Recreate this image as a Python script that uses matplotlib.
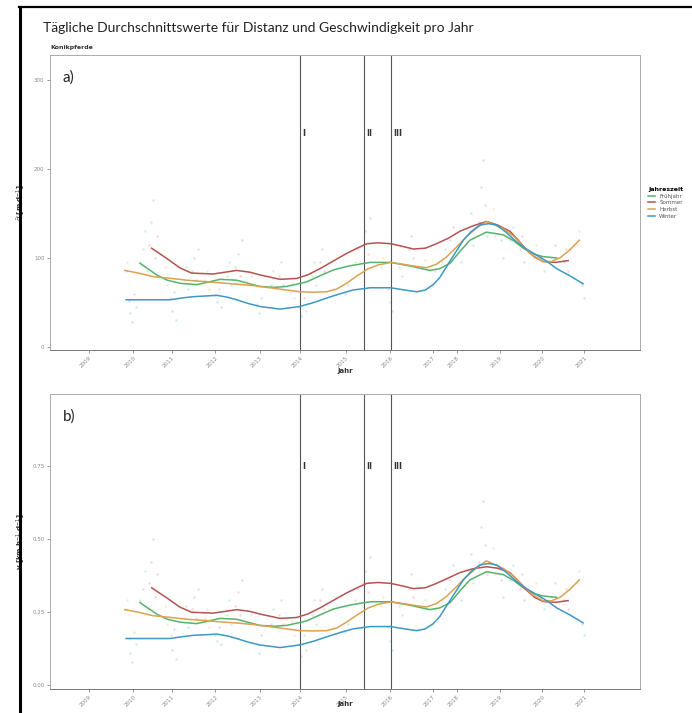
import matplotlib.pyplot as plt
from matplotlib.lines import Line2D

W, H = 692, 713

# x positions are in "axis years" (ticks of the original axis are unevenly spaced)
tick_pos = [2009.0, 2010.075, 2011.008, 2012.064, 2013.137, 2014.122, 2015.227,
            2016.30, 2017.334, 2017.908, 2018.96, 2019.985, 2021.0]
tick_lab = ['2009', '2010', '2011', '2012', '2013', '2014', '2015',
            '2016', '2017', '2018', '2019', '2020', '2021']
events = [2014.11, 2015.66, 2016.32]
event_lab = ['I', 'II', 'III']

seasons = ['Frühjahr', 'Sommer', 'Herbst', 'Winter']
line_cols = ['#55B36C', '#B4534F', '#DBA250', '#3D98C4']
dot_cols = ['#A8DCB1', '#F1ACA9', '#F5D4A4', '#9DD0E8']

# smoothed curves (panel a: distance, panel b: speed)
fr_t = [2010.24, 2010.64, 2010.9, 2011.21, 2011.61, 2011.9, 2012.18, 2012.58, 2012.9, 2013.14,
        2013.5, 2013.79, 2014.27, 2014.6, 2014.92, 2015.3, 2015.81, 2016.31, 2016.78, 2017.26,
        2017.5, 2017.75, 2018.0, 2018.23, 2018.63, 2019.04, 2019.3, 2019.52, 2019.8, 2020.0, 2020.33]
fr_a = [94, 81, 75, 71.5, 70, 73, 76, 75, 71, 68, 67, 68, 73, 80, 86.5, 91, 95, 95, 91, 86,
        88, 94, 108, 120, 129, 126, 119, 111, 104, 101.5, 100]
fr_b = [0.282, 0.243, 0.225, 0.215, 0.210, 0.219, 0.228, 0.225, 0.213, 0.204, 0.201, 0.204,
        0.219, 0.240, 0.260, 0.273, 0.285, 0.285, 0.273, 0.258, 0.264, 0.282, 0.324, 0.360,
        0.388, 0.378, 0.357, 0.333, 0.312, 0.305, 0.300]

so_t = [2010.52, 2010.9, 2011.2, 2011.49, 2012.01, 2012.3, 2012.58, 2012.9, 2013.14, 2013.63,
        2014.03, 2014.3, 2014.6, 2014.9, 2015.24, 2015.5, 2015.73, 2016.0, 2016.31, 2016.6,
        2016.86, 2017.15, 2017.42, 2017.7, 2017.99, 2018.3, 2018.63, 2018.9, 2019.2, 2019.4,
        2019.6, 2019.8, 2020.0, 2020.3, 2020.61]
so_a = [111, 99, 89, 83, 82, 84, 86, 84, 81, 76, 77, 81, 88, 96, 105, 111, 116, 117, 116, 113,
        110, 111, 116, 122, 130, 136, 141, 137, 130, 120, 109, 101, 96, 95, 97]
so_b = [0.333, 0.297, 0.267, 0.249, 0.246, 0.252, 0.258, 0.252, 0.243, 0.228, 0.231, 0.243,
        0.264, 0.288, 0.315, 0.333, 0.348, 0.351, 0.348, 0.339, 0.330, 0.333, 0.348, 0.366,
        0.385, 0.398, 0.405, 0.400, 0.385, 0.356, 0.325, 0.300, 0.286, 0.283, 0.289]

he_t = [2009.87, 2010.2, 2010.56, 2011.0, 2011.37, 2011.8, 2012.18, 2012.6, 2012.98, 2013.3,
        2013.63, 2014.11, 2014.45, 2014.76, 2015.0, 2015.24, 2015.5, 2015.77, 2016.0, 2016.31,
        2016.6, 2016.86, 2017.18, 2017.42, 2017.66, 2017.9, 2018.15, 2018.4, 2018.63, 2019.04,
        2019.3, 2019.52, 2019.75, 2020.0, 2020.2, 2020.41, 2020.65, 2020.88]
he_a = [86, 83, 79, 77, 75, 73.5, 72, 70.5, 69, 67, 65, 62, 61.5, 62, 65, 71.5, 80, 88, 92, 95,
        93, 91, 89, 93, 101, 112, 124, 134, 141, 133, 124, 113, 103, 96, 96, 100, 109, 120]
he_b = [0.258, 0.249, 0.237, 0.231, 0.225, 0.221, 0.216, 0.212, 0.207, 0.201, 0.195, 0.186,
        0.185, 0.186, 0.195, 0.215, 0.240, 0.264, 0.276, 0.285, 0.279, 0.273, 0.267, 0.279,
        0.303, 0.336, 0.372, 0.402, 0.425, 0.399, 0.372, 0.339, 0.309, 0.288, 0.288, 0.300,
        0.327, 0.360]

wi_t = [2009.9, 2010.5, 2010.96, 2011.25, 2011.53, 2012.1, 2012.35, 2012.58, 2012.85, 2013.14,
        2013.63, 2014.11, 2014.45, 2014.76, 2015.1, 2015.4, 2015.81, 2016.31, 2016.65, 2016.94,
        2017.15, 2017.34, 2017.5, 2017.66, 2017.85, 2018.07, 2018.27, 2018.47, 2018.68, 2018.88,
        2019.1, 2019.36, 2019.6, 2019.85, 2020.1, 2020.33, 2020.65, 2020.97]
wi_a = [53, 53, 53, 55, 56.5, 58, 56, 53, 49, 45.5, 42.5, 45.5, 50, 55, 60, 64, 66.5, 66.5, 64,
        62, 64, 70, 78, 90, 104, 120, 130, 137, 138.5, 137, 129, 118, 110, 103, 96, 88, 80, 71]
wi_b = [0.159, 0.159, 0.159, 0.165, 0.170, 0.174, 0.168, 0.159, 0.147, 0.137, 0.128, 0.137,
        0.150, 0.165, 0.180, 0.192, 0.200, 0.200, 0.192, 0.186, 0.192, 0.210, 0.234, 0.270,
        0.312, 0.360, 0.390, 0.411, 0.416, 0.411, 0.387, 0.354, 0.330, 0.309, 0.288, 0.264,
        0.240, 0.213]

# daily values (faint points)
fr_pt = [2010.25, 2010.3, 2010.35, 2010.4, 2011.3, 2011.35, 2011.4, 2012.35, 2012.4, 2012.45,
         2013.4, 2013.45, 2014.4, 2014.45, 2014.5, 2015.45, 2015.52, 2016.5, 2016.58, 2017.55,
         2017.62, 2018.2, 2018.25, 2018.3, 2019.2, 2019.28, 2020.2, 2020.28]
fr_pa = [95, 110, 130, 85, 75, 90, 65, 80, 95, 70, 70, 85, 80, 95, 70, 95, 110, 90, 80, 95,
         110, 130, 150, 115, 120, 135, 100, 115]
fr_pb = [0.29, 0.33, 0.39, 0.26, 0.23, 0.27, 0.2, 0.24, 0.29, 0.21, 0.21, 0.26, 0.24, 0.29,
         0.21, 0.29, 0.33, 0.27, 0.24, 0.29, 0.33, 0.39, 0.45, 0.35, 0.36, 0.41, 0.3, 0.35]

so_pt = [2010.45, 2010.5, 2010.55, 2010.6, 2010.65, 2011.5, 2011.55, 2011.6, 2011.65, 2012.55,
         2012.6, 2012.65, 2012.7, 2013.6, 2013.65, 2013.7, 2014.6, 2014.65, 2014.7, 2015.65,
         2015.7, 2015.75, 2015.8, 2016.75, 2016.8, 2016.85, 2017.75, 2017.82, 2018.45, 2018.5,
         2018.55, 2018.6, 2018.65, 2019.45, 2019.5, 2019.55, 2020.5, 2020.55, 2020.6]
so_pa = [115, 140, 165, 100, 125, 85, 100, 75, 110, 90, 105, 80, 120, 80, 95, 70, 95, 110, 85,
         115, 130, 105, 145, 110, 125, 100, 120, 135, 140, 180, 210, 160, 125, 110, 125, 95, 95,
         110, 85]
so_pb = [0.35, 0.42, 0.5, 0.3, 0.38, 0.26, 0.3, 0.23, 0.33, 0.27, 0.32, 0.24, 0.36, 0.24, 0.29,
         0.21, 0.29, 0.33, 0.26, 0.35, 0.39, 0.32, 0.44, 0.33, 0.38, 0.3, 0.36, 0.41, 0.42, 0.54,
         0.63, 0.48, 0.38, 0.33, 0.38, 0.29, 0.29, 0.33, 0.26]

he_pt = [2009.9, 2009.93, 2010.8, 2010.85, 2010.9, 2011.82, 2011.87, 2011.92, 2012.88, 2012.93,
         2013.88, 2013.93, 2013.98, 2014.92, 2014.98, 2016.08, 2016.12, 2017.08, 2017.14, 2018.72,
         2018.78, 2018.84, 2019.78, 2019.84, 2020.82, 2020.88]
he_pa = [85, 95, 78, 90, 70, 75, 85, 65, 70, 80, 62, 72, 55, 65, 58, 90, 100, 88, 98, 140, 155,
         125, 100, 115, 115, 130]
he_pb = [0.26, 0.29, 0.23, 0.27, 0.21, 0.23, 0.26, 0.2, 0.21, 0.24, 0.19, 0.22, 0.17, 0.2, 0.17,
         0.27, 0.3, 0.26, 0.29, 0.42, 0.47, 0.38, 0.3, 0.35, 0.35, 0.39]

wi_pt = [2009.97, 2010.0, 2010.05, 2010.1, 2010.15, 2010.98, 2011.02, 2011.06, 2011.1, 2012.05,
         2012.1, 2012.15, 2012.2, 2013.08, 2013.13, 2013.18, 2014.1, 2014.15, 2014.2, 2014.25,
         2015.2, 2015.28, 2016.25, 2016.3, 2016.35, 2017.3, 2017.38, 2017.95, 2018.02, 2018.98,
         2019.04, 2019.95, 2020.02, 2020.95, 2021.0]
wi_pa = [52, 38, 28, 60, 45, 55, 40, 62, 30, 58, 50, 65, 45, 48, 38, 55, 45, 35, 55, 40, 60, 70,
         65, 50, 40, 70, 85, 110, 95, 120, 100, 100, 85, 70, 55]
wi_pb = [0.16, 0.11, 0.08, 0.18, 0.14, 0.17, 0.12, 0.19, 0.09, 0.17, 0.15, 0.2, 0.14, 0.14,
         0.11, 0.17, 0.14, 0.1, 0.17, 0.12, 0.18, 0.21, 0.2, 0.15, 0.12, 0.21, 0.26, 0.33, 0.29,
         0.36, 0.3, 0.3, 0.26, 0.21, 0.17]

curves = [(fr_t, fr_a, fr_b), (so_t, so_a, so_b), (he_t, he_a, he_b), (wi_t, wi_a, wi_b)]
points = [(fr_pt, fr_pa, fr_pb), (so_pt, so_pa, so_pb), (he_pt, he_pa, he_pb), (wi_pt, wi_pa, wi_pb)]


def fx(px):
    return px / W


def fy(py):
    return 1 - py / H


fig = plt.figure(figsize=(W / 100, H / 100), dpi=100)
fig.patch.set_facecolor('white')

# slide frame
fig.add_artist(Line2D([fx(20), fx(20)], [fy(7), 0], color='black', lw=2.2))
fig.add_artist(Line2D([fx(19), 1], [fy(7), fy(7)], color='black', lw=1.6))

fig.text(fx(43), fy(28), 'Tägliche Durchschnittswerte für Distanz und Geschwindigkeit pro Jahr',
         fontsize=10, family='Lato', va='center', ha='left', color='#222222')
fig.text(fx(50), fy(47), 'Konikpferde', fontsize=4.5, fontweight='bold', va='center', color='#333333')

panels = [
    dict(top=55, bottom=350, idx=1, ylim=(-3.4, 328), yt=[0, 100, 200, 300],
         ytl=['0', '100', '200', '300'], yl='$\\bar{d}$ [m d$^{-1}$]', lab='a)', ev_y=240,
         xl_y=-0.062),
    dict(top=394, bottom=689, idx=2, ylim=(-0.014, 0.997), yt=[0, 0.25, 0.5, 0.75],
         ytl=['0.00', '0.25', '0.50', '0.75'], yl='v [km h$^{-1}$ d$^{-1}$]', lab='b)', ev_y=0.75,
         xl_y=-0.041),
]

for p in panels:
    ax = fig.add_axes([fx(50), fy(p['bottom']), fx(640) - fx(50), fy(p['top']) - fy(p['bottom'])])
    for s in range(4):
        pt = points[s]
        ax.scatter(pt[0], pt[p['idx']], s=3, color=dot_cols[s], alpha=0.5, lw=0, zorder=1)
    for s in range(4):
        c = curves[s]
        ax.plot(c[0], c[p['idx']], color=line_cols[s], lw=1.1, zorder=3, label=seasons[s])
    for e, el in zip(events, event_lab):
        ax.axvline(e, color='#555555', lw=0.8, zorder=2)
        ax.text(e + 0.05, p['ev_y'], el, fontsize=6, fontweight='bold', color='#333333',
                ha='left', va='center')
    ax.set_xlim(2008.058, 2022.35)
    ax.set_ylim(*p['ylim'])
    ax.set_xticks(tick_pos)
    ax.set_xticklabels(tick_lab, rotation=45, ha='right', va='top', rotation_mode='anchor')
    ax.set_yticks(p['yt'])
    ax.set_yticklabels(p['ytl'])
    ax.tick_params(labelsize=4, colors='#888888', length=2, width=0.6, pad=2)
    for sp in ax.spines.values():
        sp.set_color('#AAAAAA')
        sp.set_linewidth(0.7)
    ax.spines['bottom'].set_color('#777777')
    ax.set_xlabel('Jahr', fontsize=5, fontweight='bold', color='#333333')
    ax.xaxis.set_label_coords(0.5, p['xl_y'])
    ax.set_ylabel(p['yl'], fontsize=5, fontweight='bold', color='#333333')
    ax.yaxis.set_label_coords(-0.038, 0.5)
    ax.text(0.022, 0.925, p['lab'], transform=ax.transAxes, fontsize=11, family='Lato',
            color='#222222', ha='left', va='center')
    if p['idx'] == 1:
        leg = ax.legend(loc='upper left', bbox_to_anchor=(1.01, 0.56), frameon=False,
                        title='Jahreszeit', fontsize=4, title_fontsize=4.5,
                        handlelength=1.2, labelspacing=0.3, borderaxespad=0)
        leg.get_title().set_fontweight('bold')
        leg._legend_box.align = 'left'
        for t in leg.get_texts():
            t.set_color('#555555')

fig.savefig('out.png', dpi=100, facecolor='white')
